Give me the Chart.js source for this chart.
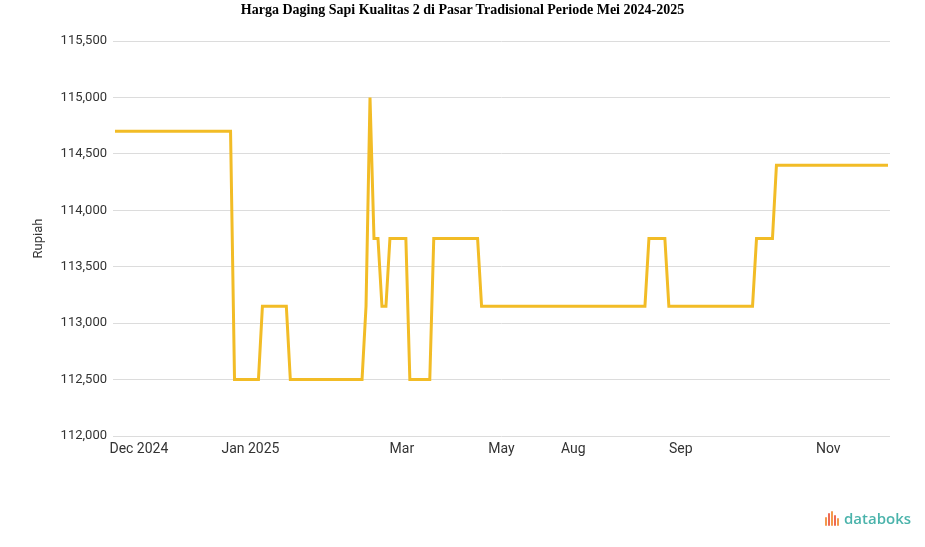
<!DOCTYPE html>
<html>
<head>
<meta charset="utf-8">
<script src="https://cdn.jsdelivr.net/npm/chart.js@4/dist/chart.umd.min.js"></script>
<style>
  body { margin: 0; background: #fff; }
  #wrap { position: relative; width: 925px; height: 547px; }
  #title { position: absolute; left: 0; top: 2px; width: 925px; text-align: center; line-height: 16px;
           font-family: 'Liberation Serif', 'Times New Roman', serif; font-weight: bold; font-size: 14px; color: #000; }
  #logo { position: absolute; left: 825px; top: 506px; height: 24px; display: flex; align-items: center; }
  #logo .bars { display: flex; align-items: flex-end; height: 15px; margin-right: 4px; }
  #logo .bars span { display: block; width: 2px; margin-right: 1px; border-radius: 1px; }
  #logo .txt { font-family: 'Open Sans', sans-serif; font-weight: 600; font-size: 15px; color: #4ab3ab; }
</style>
</head>
<body>
<div id="wrap">
  <canvas id="chart" width="925" height="547"></canvas>
  <div id="title"></div>
  <div id="logo">
    <div class="bars">
      <span style="height:9px;background:#f39a4c"></span>
      <span style="height:13px;background:#ee6a55"></span>
      <span style="height:15px;background:#f39a4c"></span>
      <span style="height:11px;background:#ee6a55"></span>
      <span style="height:8px;background:#f39a4c"></span>
    </div>
    <div class="txt">databoks</div>
  </div>
</div>
<script>
// ===================================================
// DATA
// ===================================================
const chartTitle = 'Harga Daging Sapi Kualitas 2 di Pasar Tradisional Periode Mei 2024-2025';
const yTitle = 'Rupiah';

// harga (Rp) per titik data
const prices = [
    114700, 114700, 114700, 114700, 114700, 114700, 114700, 114700, 114700, 114700,
    114700, 114700, 114700, 114700, 114700, 114700, 114700, 114700, 114700, 114700,
    114700, 114700, 114700, 114700, 114700, 114700, 114700, 114700, 114700, 114700,
    112500, 112500, 112500, 112500, 112500, 112500, 112500, 113150, 113150, 113150,
    113150, 113150, 113150, 113150, 112500, 112500, 112500, 112500, 112500, 112500,
    112500, 112500, 112500, 112500, 112500, 112500, 112500, 112500, 112500, 112500,
    112500, 112500, 112500, 113150, 115000, 113750, 113750, 113150, 113150, 113750,
    113750, 113750, 113750, 113750, 112500, 112500, 112500, 112500, 112500, 112500,
    113750, 113750, 113750, 113750, 113750, 113750, 113750, 113750, 113750, 113750,
    113750, 113750, 113150, 113150, 113150, 113150, 113150, 113150, 113150, 113150,
    113150, 113150, 113150, 113150, 113150, 113150, 113150, 113150, 113150, 113150,
    113150, 113150, 113150, 113150, 113150, 113150, 113150, 113150, 113150, 113150,
    113150, 113150, 113150, 113150, 113150, 113150, 113150, 113150, 113150, 113150,
    113150, 113150, 113150, 113150, 113750, 113750, 113750, 113750, 113750, 113150,
    113150, 113150, 113150, 113150, 113150, 113150, 113150, 113150, 113150, 113150,
    113150, 113150, 113150, 113150, 113150, 113150, 113150, 113150, 113150, 113150,
    113150, 113750, 113750, 113750, 113750, 113750, 114400, 114400, 114400, 114400,
    114400, 114400, 114400, 114400, 114400, 114400, 114400, 114400, 114400, 114400,
    114400, 114400, 114400, 114400, 114400, 114400, 114400, 114400, 114400, 114400,
    114400, 114400, 114400, 114400, 114400
];

// label sumbu x yang terlihat dan titik tempatnya
const tickLabels = ['Dec 2024', 'Jan 2025', 'Mar', 'May', 'Aug', 'Sep', 'Nov'];
const tickAt = [6, 34, 72, 97, 115, 142, 179];

const yMin = 112000;
const yMax = 115500;
const yStep = 500;

// ===================================================
// BUILD CATEGORIES
// ===================================================
const categories = prices.map(() => '');
tickAt.forEach((idx, k) => { categories[idx] = tickLabels[k]; });

document.getElementById('title').textContent = chartTitle;

// ===================================================
// CHART
// ===================================================
const ctx = document.getElementById('chart');

new Chart(ctx, {
    type: 'line',
    data: {
        labels: categories,
        datasets: [{
            data: prices,
            borderColor: '#f2bc26',
            borderWidth: 3,
            pointRadius: 0,
            tension: 0,
            fill: false
        }]
    },
    options: {
        responsive: false,
        animation: false,
        layout: { padding: { top: 41, right: 35, bottom: 81, left: 0 } },
        plugins: {
            legend: { display: false },
            tooltip: { enabled: false },
            title: { display: false }
        },
        scales: {
            x: {
                type: 'category',
                offset: true,
                grid: { display: false, drawTicks: false },
                border: { display: false },
                ticks: {
                    autoSkip: false,
                    maxRotation: 0,
                    minRotation: 0,
                    padding: 5,
                    color: '#333',
                    font: { family: 'Roboto', size: 14 }
                },
                afterFit(scale) { scale.height = 30; }
            },
            y: {
                min: yMin,
                max: yMax,
                grid: { color: '#dcdcdc', drawTicks: false },
                border: { display: false },
                ticks: {
                    stepSize: yStep,
                    padding: 6,
                    color: '#333',
                    font: { family: 'Roboto', size: 13 },
                    callback: v => v.toLocaleString('en-US')
                },
                title: {
                    display: true,
                    text: yTitle,
                    color: '#333',
                    font: { family: 'Roboto', size: 13 },
                    padding: { top: 31 }
                },
                afterFit(scale) { scale.width = 113; }
            }
        }
    }
});
</script>
</body>
</html>
